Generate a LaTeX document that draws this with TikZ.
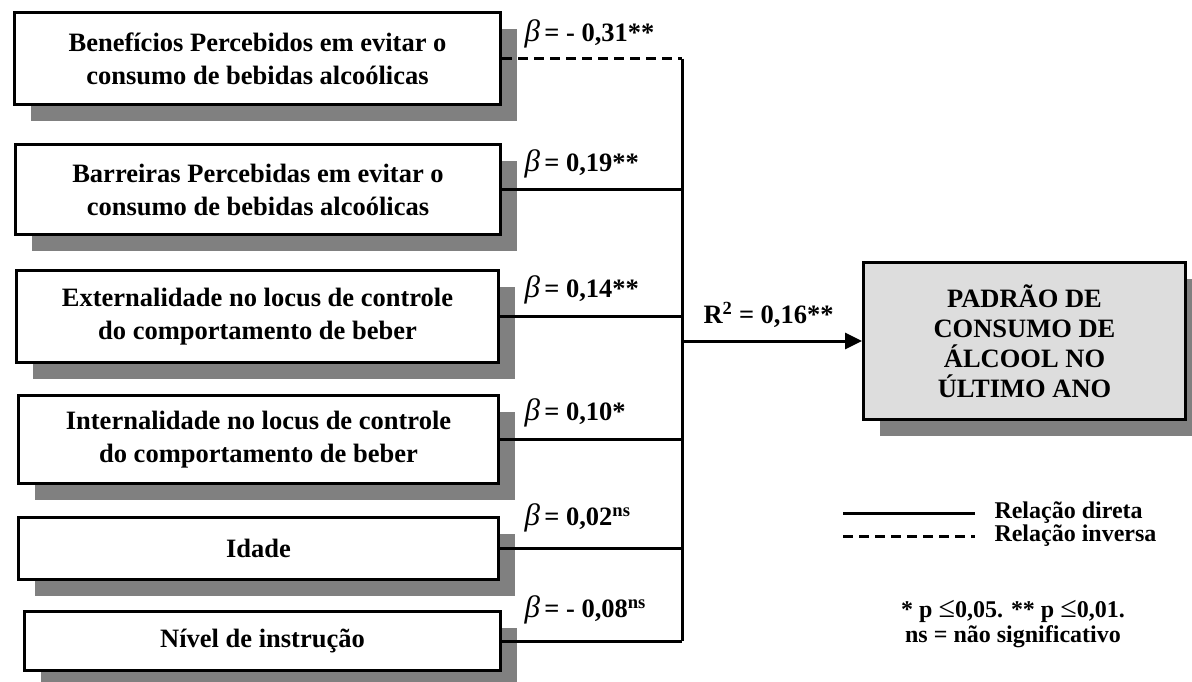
\documentclass[tikz,border=0pt]{standalone}
\usepackage{fontspec}
\setmainfont{Liberation Serif}
\usetikzlibrary{shadows,arrows.meta}
\definecolor{shadowgray}{HTML}{808080}
\definecolor{boxgray}{HTML}{DDDDDD}
\newcommand{\betasym}{{\mdseries\itshape\fontsize{31}{30}\selectfont β}}

\begin{document}
\begin{tikzpicture}[x=1pt,y=-1pt,line width=3pt,
  factor/.style={draw,fill=white,align=center,inner sep=0pt,
    font=\fontsize{26.5}{33}\selectfont\bfseries,
    drop shadow={fill=shadowgray,opacity=1,shadow xshift=16pt,shadow yshift=-16pt}},
  outcome/.style={factor,fill=boxgray,font=\fontsize{26.5}{30}\selectfont\bfseries},
  coef/.style={anchor=west,inner sep=0pt,font=\fontsize{26.5}{30}\selectfont\bfseries},
  legend/.style={anchor=west,inner sep=0pt,font=\fontsize{24}{25}\selectfont\bfseries},
  inverse/.style={dash pattern=on 10pt off 6pt}]
  \useasboundingbox (0,0) rectangle (1192,681);

  %predictors
  \node[factor,minimum width=486pt,minimum height=92pt] (ben) at (257.5,58.5)
    {Benefícios Percebidos em evitar o\\consumo de bebidas alcoólicas};
  \node[factor,minimum width=485pt,minimum height=90pt] (bar) at (258,189.5)
    {Barreiras Percebidas em evitar o\\consumo de bebidas alcoólicas};
  \node[factor,minimum width=482pt,minimum height=92pt] (ext) at (257.5,316.5)
    {Externalidade no locus de controle\\do comportamento de beber};
  \node[factor,minimum width=480pt,minimum height=88pt] (int) at (258.5,439.5)
    {Internalidade no locus de controle\\do comportamento de beber};
  \node[factor,minimum width=480pt,minimum height=62pt] (ida) at (258.5,548.5) {Idade};
  \node[factor,minimum width=476pt,minimum height=59pt] (niv) at (262.5,641) {Nível de instrução};

  %outcome
  \node[outcome,minimum width=322pt,minimum height=157pt] (out) at (1024.5,341)
    {PADRÃO DE\\CONSUMO DE\\ÁLCOOL NO\\ÚLTIMO ANO};

  %connectors
  \coordinate (bus) at (682,341);
  \draw[inverse] (ben.east) -- (ben.east -| bus);
  \foreach \n in {bar,ext,int,ida,niv}
    \draw (\n.east) -- (\n.east -| bus);
  \draw (ben.east -| bus) -- (niv.east -| bus);
  \draw[-{Triangle[length=17pt,width=16pt]}] (bus) -- (out.west);

  %coefficients
  \node[coef] (cben) at (523,34) {\betasym\,= - 0,31**};
  \node[coef] (cbar) at (523,164) {\betasym\,= 0,19**};
  \node[coef] (cext) at (523,290) {\betasym\,= 0,14**};
  \node[coef] (cint) at (523,413) {\betasym\,= 0,10*};
  \node[coef] (cida) at (523,518) {\betasym\,= 0,02\textsuperscript{ns}};
  \node[coef] (cniv) at (523,610) {\betasym\,= - 0,08\textsuperscript{ns}};
  \node[coef] (rsq) at (702,315) {R\textsuperscript{2} = 0,16**};

  %legend
  \coordinate (dirA) at (843,513);
  \coordinate (dirB) at (975,513);
  \coordinate (invA) at (843,536);
  \coordinate (invB) at (975,536);
  \draw (dirA) -- (dirB);
  \draw[inverse] (invA) -- (invB);
  \node[legend] (ldir) at (993,513) {Relação direta};
  \node[legend] (linv) at (993,536) {Relação inversa};
  \node[legend,anchor=center,align=center] (note) at (1013,624)
    {* p {\mdseries\fontsize{30}{25}\selectfont ≤}0,05. ** p {\mdseries\fontsize{30}{25}\selectfont ≤}0,01.\\ns = não significativo};
\end{tikzpicture}
\end{document}
